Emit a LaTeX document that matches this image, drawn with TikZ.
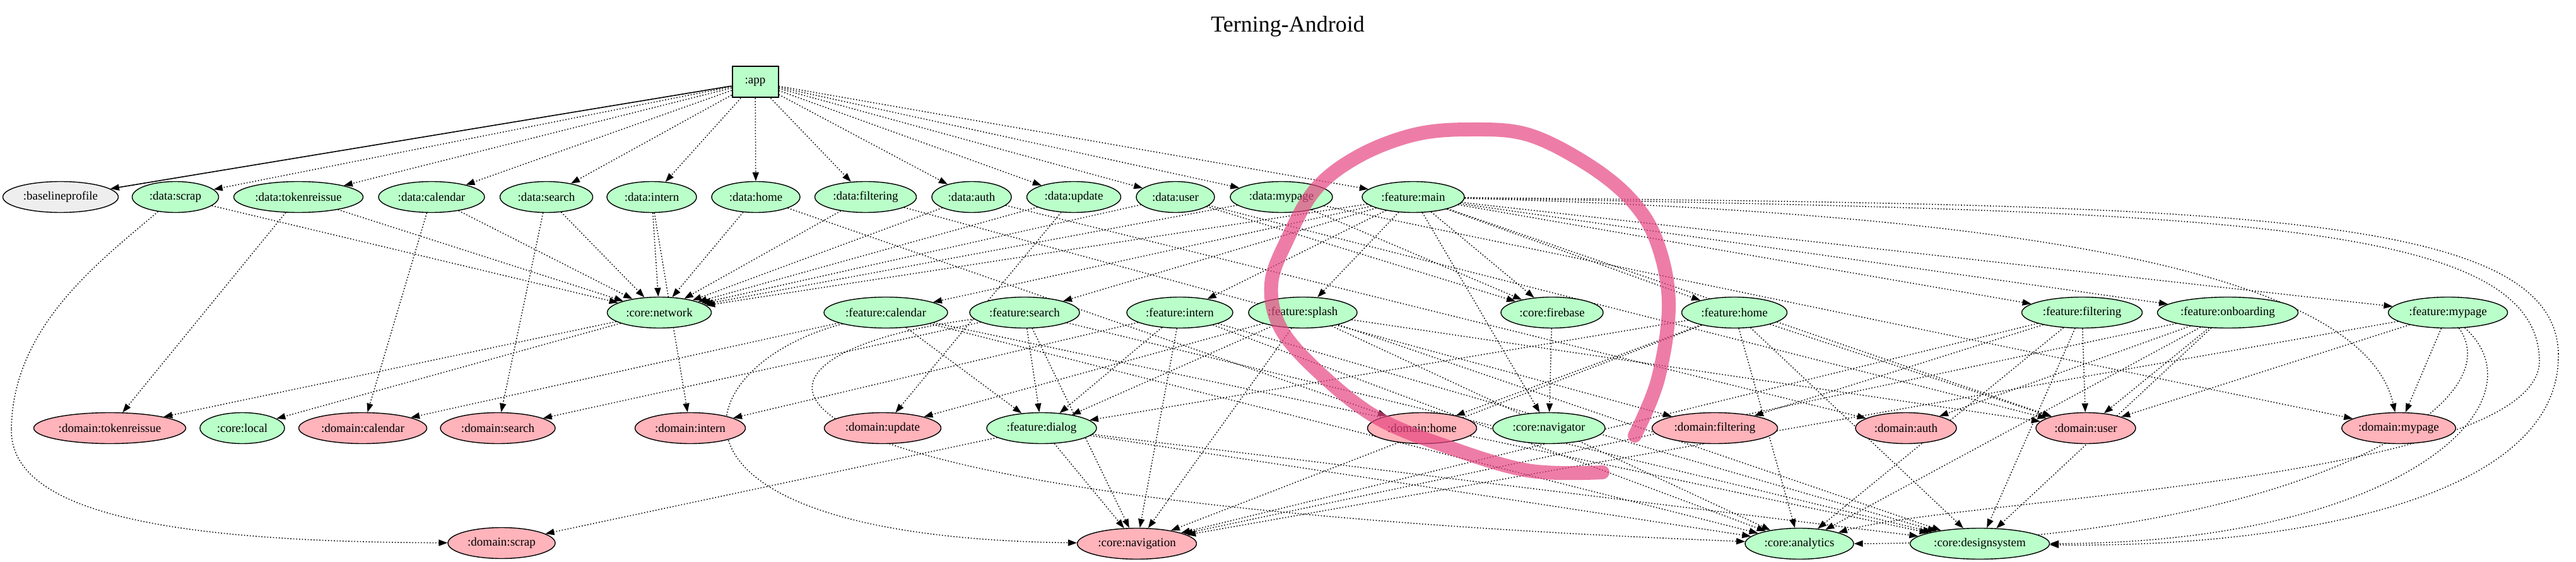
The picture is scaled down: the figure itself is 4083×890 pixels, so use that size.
\documentclass[tikz,border=0pt]{standalone}
\usepackage{fontspec}
\setmainfont{Liberation Serif}
\usetikzlibrary{shapes.geometric,arrows.meta}
\pgfdeclarelayer{bg}
\pgfdeclarelayer{fg}
\pgfsetlayers{bg,main,fg}
\definecolor{gnode}{HTML}{BAFFC9}
\definecolor{pnode}{HTML}{FFB3BA}
\definecolor{grnode}{HTML}{EEEEEE}
\definecolor{marker}{RGB}{230,70,130}
\begin{document}
\begin{tikzpicture}[x=1pt,y=-1pt,
  mod/.style={ellipse, draw, line width=1.4pt, minimum height=49pt, inner sep=0pt, font=\fontsize{19}{21}\selectfont},
  gm/.style={mod, fill=gnode, minimum width=#1pt},
  pm/.style={mod, fill=pnode, minimum width=#1pt},
  dep/.style={line width=1.5pt, dash pattern=on 1.6pt off 3pt, -{Triangle[length=14pt,width=10pt]}},
  hard/.style={line width=1.6pt, -{Triangle[length=14pt,width=10pt]}}]
\begin{pgfonlayer}{bg}
\fill[white] (0,0) rectangle (4083,890);
\end{pgfonlayer}
\useasboundingbox (0,0) rectangle (4083,890);
\node[font=\fontsize{36}{40}\selectfont] (title) at (2041,42) {Terning-Android};
% row 0
\node[draw, line width=2pt, fill=gnode, minimum width=73pt, minimum height=49pt, inner sep=0pt, font=\fontsize{19}{21}\selectfont] (app) at (1197,130) {:app};
% row 1
\node[mod, fill=grnode, minimum width=183pt] (bp) at (96,312) {:baselineprofile};
\node[gm=137] (dscrap) at (278,312) {:data:scrap};
\node[gm=205] (dtok) at (473,312) {:data:tokenreissue};
\node[gm=168] (dcal) at (684,312) {:data:calendar};
\node[gm=147] (dsearch) at (866,312) {:data:search};
\node[gm=142] (dintern) at (1033,312) {:data:intern};
\node[gm=140] (dhome) at (1198,312) {:data:home};
\node[gm=161] (dfilter) at (1372,312) {:data:filtering};
\node[gm=126] (dauth) at (1540,312) {:data:auth};
\node[gm=149] (dupdate) at (1702,312) {:data:update};
\node[gm=124] (duser) at (1863,312) {:data:user};
\node[gm=162] (dmypage) at (2031,312) {:data:mypage};
\node[gm=162] (fmain) at (2240,312) {:feature:main};
% row 2
\node[gm=165] (net) at (1045,495) {:core:network};
\node[gm=196] (fcal) at (1404,495) {:feature:calendar};
\node[gm=174] (fsearch) at (1624,495) {:feature:search};
\node[gm=168] (fintern) at (1870,495) {:feature:intern};
\node[gm=172] (fsplash) at (2065,495) {:feature:splash};
\node[gm=162] (firebase) at (2460,495) {:core:firebase};
\node[gm=167] (fhome) at (2749,495) {:feature:home};
\node[gm=191] (ffilter) at (3300,495) {:feature:filtering};
\node[gm=223] (fonb) at (3531,495) {:feature:onboarding};
\node[gm=189] (fmypage) at (3880,495) {:feature:mypage};
% row 3
\node[pm=241] (mtok) at (174,678) {:domain:tokenreissue};
\node[gm=134] (local) at (384,678) {:core:local};
\node[pm=203] (mcal) at (575,678) {:domain:calendar};
\node[pm=182] (msearch) at (789,678) {:domain:search};
\node[pm=175] (mintern) at (1094,678) {:domain:intern};
\node[pm=185] (mupdate) at (1399,678) {:domain:update};
\node[gm=174] (fdialog) at (1651,678) {:feature:dialog};
\node[pm=173] (mhome) at (2254,678) {:domain:home};
\node[gm=178] (navigator) at (2455,678) {:core:navigator};
\node[pm=199] (mfilter) at (2718,678) {:domain:filtering};
\node[pm=160] (mauth) at (3021,678) {:domain:auth};
\node[pm=158] (muser) at (3306,678) {:domain:user};
\node[pm=172] (mmypage) at (3802,678) {:domain:mypage};
% row 4
\node[pm=170] (mscrap) at (795,860) {:domain:scrap};
\node[pm=189] (navigation) at (1802,861) {:core:navigation};
\node[gm=172] (analytics) at (2852,861) {:core:analytics};
\node[gm=221] (design) at (3138,861) {:core:designsystem};

\begin{pgfonlayer}{bg}
% app
\draw[hard] (app) -- (bp);
\foreach \t in {dscrap,dtok,dcal,dsearch,dintern,dhome,dfilter,dauth,dupdate,duser,dmypage,fmain}
  \draw[dep] (app) -- (\t);
% data -> network
\foreach \s in {dscrap,dtok,dcal,dsearch,dintern,dhome,dfilter,dauth,dupdate,duser,dmypage}
  \draw[dep] (\s) -- (net);
% data -> domain
\draw[dep, -] (dscrap) .. controls (150,420) and (20,520) .. (18,680) coordinate (arcL);
\draw[dep] (arcL) .. controls (16,820) and (300,858) .. (mscrap);
\draw[dep] (dtok) -- (mtok);
\draw[dep] (dcal) -- (mcal);
\draw[dep] (dsearch) -- (msearch);
\draw[dep] (dintern) -- (mintern);
\draw[dep] (dhome) -- (mhome);
\draw[dep] (dfilter) -- (mfilter);
\draw[dep] (dauth) -- (mauth);
\draw[dep] (dupdate) -- (mupdate);
\draw[dep] (duser) -- (muser);
\draw[dep] (dmypage) -- (mmypage);
\draw[dep] (duser) -- (firebase);
\draw[dep] (dmypage) -- (firebase);
% core
\draw[dep] (net) -- (local);
\draw[dep] (net) -- (mtok);
\draw[dep] (firebase) -- (navigator);
% feature:main
\foreach \t in {fcal,fsearch,fintern,fsplash,fhome,ffilter,fonb,fmypage,net,firebase,navigator,muser}
  \draw[dep] (fmain) -- (\t);
\draw[dep] (fmain) .. controls (3300,340) and (3750,450) .. (mmypage);
\draw[dep, -] (fmain) .. controls (3500,325) and (4050,330) .. (4055,560) coordinate (arcR1);
\draw[dep] (arcR1) .. controls (4060,800) and (3600,868) .. (design);
\draw[dep, -] (fmain) .. controls (3500,335) and (4020,345) .. (4025,570) coordinate (arcR2);
\draw[dep] (arcR2) .. controls (4030,760) and (3100,790) .. (analytics);
% features
\foreach \s/\m in {fcal/mcal,fsearch/msearch,fintern/mintern,fsplash/mupdate,fhome/mhome,ffilter/mfilter,fonb/mauth,fmypage/mmypage}
  \draw[dep] (\s) -- (\m);
\foreach \s in {fcal,fsearch,fintern,fsplash,fhome}
  \draw[dep] (\s) -- (fdialog);
\foreach \s in {fsplash,fhome,ffilter,fonb,fmypage}
  \draw[dep] (\s) -- (muser);
\foreach \s in {fintern,fsplash,fhome,ffilter,fonb,fdialog}
  {\draw[dep] (\s) -- (navigation);
   \draw[dep] (\s) -- (analytics);
   \draw[dep] (\s) -- (design);}
\draw[dep] (fcal) .. controls (1080,580) and (1000,850) .. (navigation);
\draw[dep] (fsearch) .. controls (1120,560) and (1040,790) .. (analytics);
\draw[dep] (fcal) -- (design);
\draw[dep] (fcal) -- (analytics);
\draw[dep] (fsearch) -- (navigation);
\draw[dep] (fsearch) -- (design);
\draw[dep] (fmypage) -- (navigation);
\draw[dep] (fmypage) .. controls (3990,650) and (3600,860) .. (analytics);
\draw[dep] (fmypage) .. controls (4040,640) and (3800,860) .. (design);
\draw[dep] (fdialog) -- (mscrap);
\end{pgfonlayer}
\begin{pgfonlayer}{fg}
\draw[marker, opacity=0.7, line width=22pt, line cap=round, line join=round]
  plot[smooth, tension=0.6] coordinates {(2591,690) (2628,600) (2645,480) (2625,380) (2582,313) (2511,257) (2421,213) (2332,205) (2243,213) (2154,247) (2085,300) (2040,380) (2015,450) (2030,520) (2091,590) (2180,660) (2287,705) (2421,745) (2540,748)};
\end{pgfonlayer}
\end{tikzpicture}
\end{document}
